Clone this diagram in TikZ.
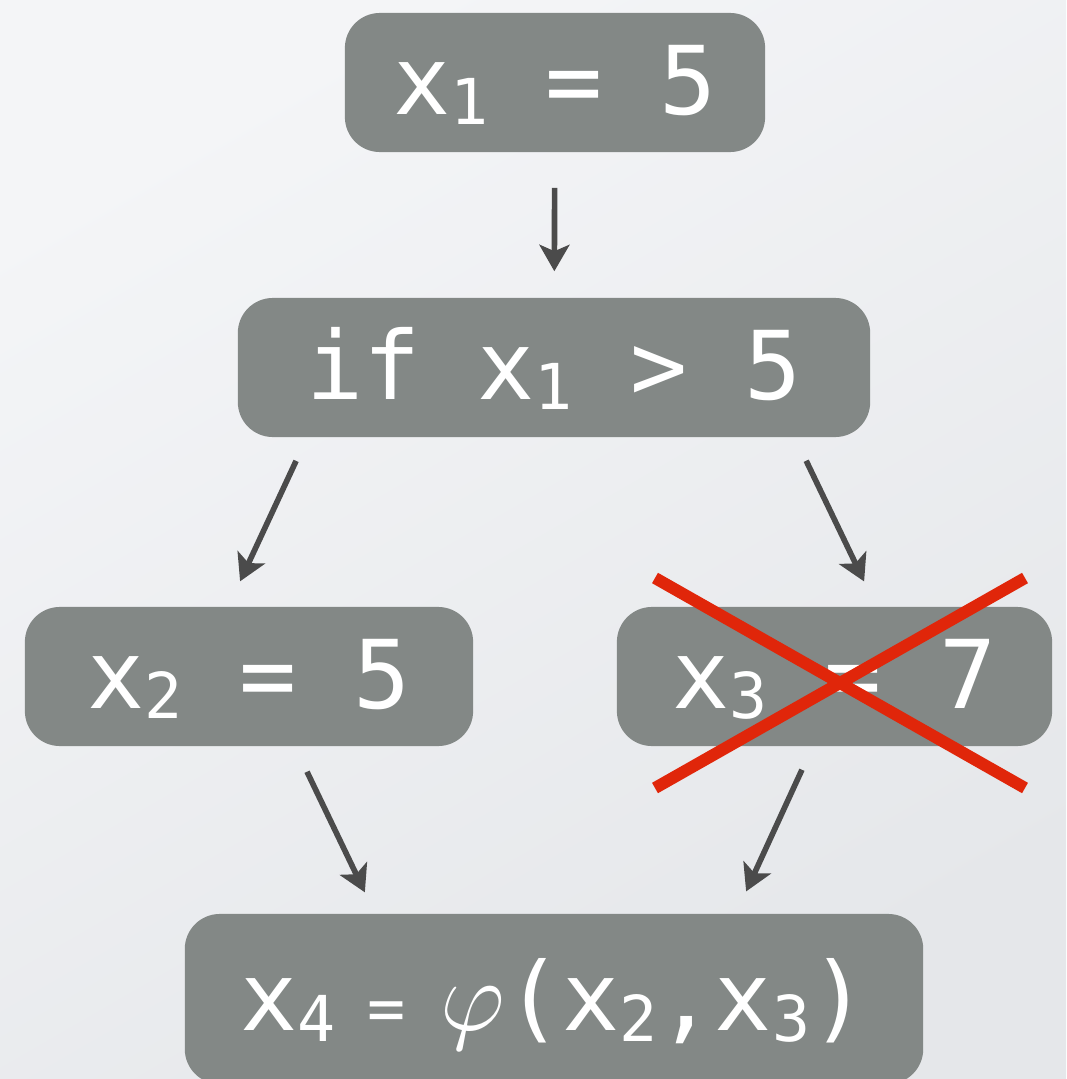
\documentclass[tikz,border=0pt]{standalone}
\usepackage{fontspec}
\setmonofont{DejaVu Sans Mono}
\usetikzlibrary{arrows.meta,calc}
\definecolor{bglight}{HTML}{F4F5F7}
\definecolor{bgdark}{HTML}{E5E7EA}
\definecolor{pgrey}{HTML}{838886}
\definecolor{dgrey}{HTML}{4B4B4B}
\definecolor{xred}{HTML}{E0260A}
\newcommand{\idx}[1]{\raisebox{-3pt}{\fontsize{18}{18}\selectfont #1}}
\tikzset{
  blk/.style={fill=pgrey,rounded corners=0.35cm,text=white,inner sep=0pt,
              font=\ttfamily\fontsize{27}{30}\selectfont,text height=20.5pt,text depth=2.5pt},
  arr/.style={-{Stealth[length=7.5pt,width=8.5pt,inset=1.8pt]},line width=1.6pt,dgrey},
}
\begin{document}
\begin{tikzpicture}[x=0.01cm,y=-0.01cm,
  cross/.style={xred,line width=3.4pt}]
% background
\useasboundingbox (0,0) rectangle (1066,1079);
\shade[shading=axis,top color=bglight,bottom color=bgdark,shading angle=30] (0,0) rectangle (1066,1079);
% statements
\node[blk,minimum width=4.2cm,minimum height=1.39cm] (def1) at (555,82.5) {x\idx{1} = 5};
\node[blk,minimum width=6.32cm,minimum height=1.39cm] (cond) at (554,367.5) {if x\idx{1} > 5};
\node[blk,minimum width=4.48cm,minimum height=1.39cm] (def2) at (249,676.5) {x\idx{2} = 5};
\node[blk,minimum width=4.35cm,minimum height=1.39cm] (def3) at (834.5,676.5) {x\idx{3} = 7};
\node[blk,minimum width=7.38cm,minimum height=1.70cm] (phi) at (554,999)
  {x\idx{4}\hspace{9pt}{\fontsize{18}{18}\selectfont=}\hspace{10pt}\scalebox{1.15}{$\varphi$}(x\idx{2},x\idx{3})};
% flow
\draw[arr,shorten <=0.35cm,shorten >=0.26cm] (def1) -- (cond);
\draw[arr,shorten <=0.255cm,shorten >=0.275cm] ([xshift=-2.47cm]cond.south) -- ([xshift=-0.205cm]def2.north);
\draw[arr,shorten <=0.255cm,shorten >=0.275cm] ([xshift=2.41cm]cond.south) -- ([xshift=0.415cm]def3.north);
\draw[arr,shorten <=0.277cm,shorten >=0.232cm] ([xshift=0.46cm]def2.south) -- ([xshift=-1.79cm]phi.north);
\draw[arr,shorten <=0.253cm,shorten >=0.24cm] ([xshift=-0.22cm]def3.south) -- ([xshift=1.82cm]phi.north);
% dead definition
\draw[cross] ($(def3)+(-179.5,-98.5)$) -- ($(def3)+(190.5,111.5)$);
\draw[cross] ($(def3)+(-179.5,111.5)$) -- ($(def3)+(190.5,-98.5)$);
\end{tikzpicture}
\end{document}
